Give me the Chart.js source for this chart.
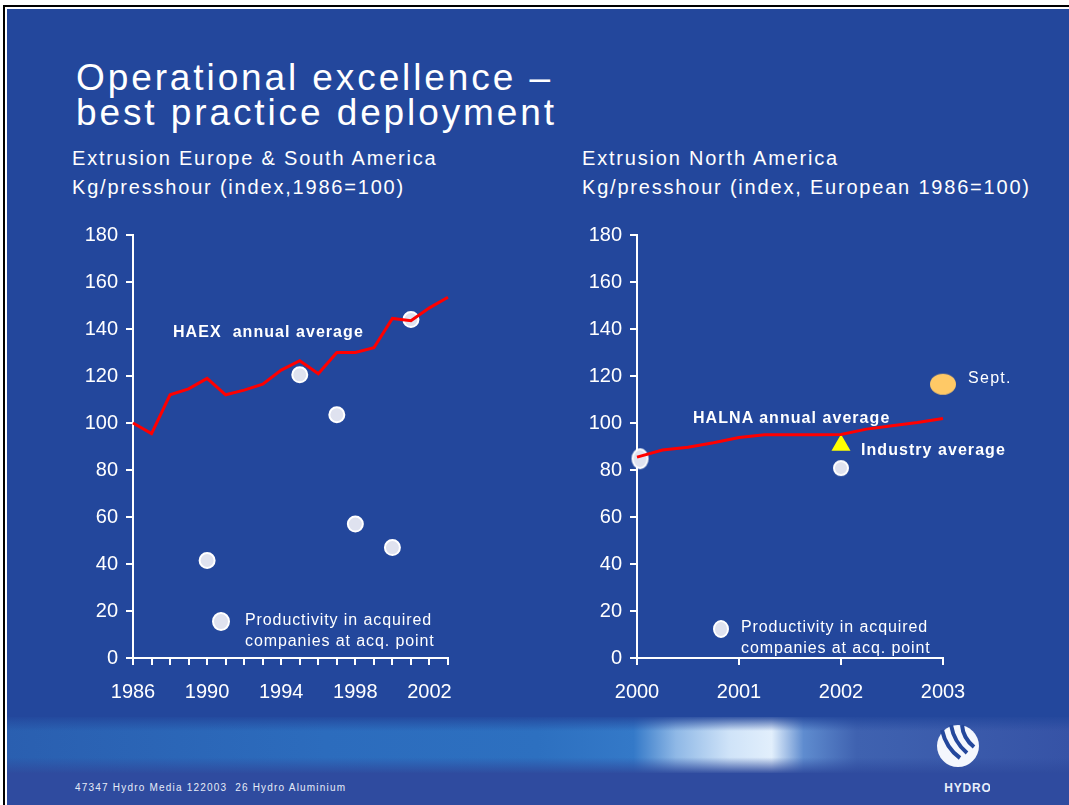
<!DOCTYPE html>
<html>
<head>
<meta charset="utf-8">
<script src="https://cdn.jsdelivr.net/npm/chart.js@4.4.1/dist/chart.umd.min.js"></script>
<style>
  html, body { margin:0; padding:0; background:#fff; }
  body { width:1069px; height:805px; position:relative; overflow:hidden; font-family:"Liberation Sans", Arial, sans-serif; color:#fff; }
  .edge-l { position:absolute; left:3px; top:5px; width:2px; bottom:0; background:#000; }
  .edge-t { position:absolute; left:3px; top:5px; right:0; height:2px; background:#000; }
  .slide { position:absolute; left:7px; top:9px; right:0; bottom:0; background:#23479c; }
  .txt { position:absolute; white-space:nowrap; line-height:1; }
  .title { left:76px; font-size:37px; letter-spacing:2.9px; }
  .sub { font-size:20px; letter-spacing:1.8px; }
  .note { font-size:16px; font-weight:bold; letter-spacing:1.05px; }
  .leg { font-size:16px; letter-spacing:0.9px; line-height:21px; }
  .dot { position:absolute; border-radius:50%; background:#dfe2ef; border:2px solid #fff; }
  .box { position:absolute; }
  .band { position:absolute; left:7px; right:0; top:717px; height:56px;
    background:
      linear-gradient(to bottom, rgba(35,71,156,0.9) 0%, rgba(35,71,156,0) 25%, rgba(35,71,156,0) 72%, rgba(47,75,158,0.95) 100%),
      linear-gradient(to right, #2a5fb0 0%, #2c6cbd 30%, #2d70c0 50%, #3479c8 59%, #8fb8e6 63%, #cfe3f8 68%, #e2effc 72%, #5f8ccf 75%, #3f62b0 80%, #3653a6 100%);
  }
  .foot { position:absolute; left:7px; right:0; top:773px; bottom:0; background:#2f4b9f; }
</style>
</head>
<body>
<div class="slide"></div>
<div class="edge-l"></div>
<div class="edge-t"></div>
<div class="band"></div>
<div class="foot"></div>

<div class="txt title" style="top:59px">Operational excellence –</div>
<div class="txt title" style="top:94px">best practice deployment</div>

<div class="txt sub" style="left:72px; top:148px">Extrusion Europe &amp; South America</div>
<div class="txt sub" style="left:72px; top:177px">Kg/presshour (index,1986=100)</div>
<div class="txt sub" style="left:582px; top:148px">Extrusion North America</div>
<div class="txt sub" style="left:582px; top:177px">Kg/presshour (index, European 1986=100)</div>

<div class="box" style="left:60px; top:215px"><canvas id="left" width="420" height="500"></canvas></div>
<div class="box" style="left:560px; top:215px"><canvas id="right" width="500" height="500"></canvas></div>

<div class="txt note" style="left:173px; top:324px">HAEX&nbsp; annual average</div>
<div class="txt note" style="left:693px; top:410px">HALNA annual average</div>
<div class="txt note" style="left:861px; top:442px">Industry average</div>
<div class="txt" style="left:968px; top:370px; font-size:16px; letter-spacing:1.3px">Sept.</div>

<div class="dot" style="left:212px; top:612px; width:14px; height:15px"></div>
<div class="txt leg" style="left:245px; top:609px">Productivity in acquired<br>companies at acq. point</div>
<div class="dot" style="left:713px; top:620px; width:12px; height:14px"></div>
<div class="txt leg" style="left:741px; top:616px">Productivity in acquired<br>companies at acq. point</div>

<svg class="box" style="left:934px; top:722px" width="56" height="74" viewBox="0 0 56 74">
  <circle cx="24" cy="24" r="21" fill="#f4f7fd"/>
  <path d="M8 8 Q12 26 26 36" stroke="#23479c" stroke-width="4" fill="none"/>
  <path d="M17 3 Q20 20 33 31" stroke="#23479c" stroke-width="4" fill="none"/>
  <path d="M28 3 Q29 16 40 25" stroke="#23479c" stroke-width="4" fill="none"/>
  <text x="34" y="70" text-anchor="middle" font-family="Liberation Sans Narrow, Liberation Sans, Arial" font-weight="bold" font-size="12" letter-spacing="0.8" fill="#e8eefa">HYDRO</text>
</svg>
<div class="txt" style="left:75px; top:783px; font-family:'Liberation Sans Narrow','Liberation Sans',Arial; font-size:10px; letter-spacing:1.2px; color:#e6ebf7">47347 Hydro Media 122003 &nbsp;26 Hydro Aluminium</div>

<script>
// Europe & South America
const haexYears = [1986, 1987, 1988, 1989, 1990, 1991, 1992, 1993, 1994, 1995, 1996, 1997, 1998, 1999, 2000, 2001, 2002, 2003];
const haexValues = [100, 95.5, 112, 114.5, 119, 112, 114, 116.5, 122.5, 126.5, 121, 130, 130, 132, 144.5, 143.5, 149, 153.5];
const acqYearsEu = [1990, 1995, 1997, 1998, 2000, 2001];
const acqValuesEu = [41.5, 120.5, 103.5, 57, 47, 144];
const yearLabelsEu = [1986, 1990, 1994, 1998, 2002];

// North America
const halnaX = [2000, 2000.25, 2000.5, 2000.75, 2001, 2001.25, 2001.5, 2001.75, 2002, 2002.25, 2002.5, 2002.75, 2003, 2003.08];
const halnaValues = [85.5, 88.5, 89.7, 91.6, 93.8, 95, 95, 95, 95.1, 97.4, 98.8, 100.2, 101.9, 101.9];
const acqYearsNa = [2000.03, 2002];
const acqValuesNa = [84.8, 80.8];
const industryYear = [2002];
const industryValue = [90.5];
const septYear = [2003];
const septValue = [116.5];
const yearLabelsNa = [2000, 2001, 2002, 2003];

const yTicks = [0, 20, 40, 60, 80, 100, 120, 140, 160, 180];

const WHITE = '#ffffff';
const tickFont = { family: '"Liberation Sans", Arial, sans-serif', size: 20 };

function pts(xs, ys){ return xs.map((x, i) => ({ x, y: ys[i] })); }

// oval marker images
function oval(w, h, fill, stroke){
  const c = document.createElement('canvas');
  c.width = w + 4; c.height = h + 4;
  const g = c.getContext('2d');
  g.beginPath();
  g.ellipse(c.width / 2, c.height / 2, w / 2, h / 2, 0, 0, Math.PI * 2);
  g.fillStyle = fill; g.fill();
  if(stroke){ g.lineWidth = 2; g.strokeStyle = stroke; g.stroke(); }
  return c;
}
const acqStylesNa = [oval(15, 19, '#dfe2ef', WHITE), oval(14, 14, '#dfe2ef', WHITE)];
const septStyle = oval(26, 21, '#ffc966');

function axes(xMin, xMax, labels, yW, xH){
  return {
    x: {
      type: 'linear', min: xMin, max: xMax,
      grid: { display: true, drawOnChartArea: false, drawTicks: true, tickLength: 7, color: WHITE, lineWidth: 2 },
      border: { display: true, color: WHITE, width: 2 },
      ticks: { stepSize: 1, autoSkip: false, maxRotation: 0, color: WHITE, font: tickFont, padding: 15,
        callback: v => labels.includes(v) ? String(v) : '' },
      afterFit: s => { s.height = xH; }
    },
    y: {
      min: 0, max: 180,
      afterBuildTicks: s => { s.ticks = yTicks.map(v => ({ value: v })); },
      grid: { display: true, drawOnChartArea: false, drawTicks: true, tickLength: 7, color: WHITE, lineWidth: 2 },
      border: { display: true, color: WHITE, width: 2 },
      ticks: { color: WHITE, font: tickFont, padding: 8 },
      afterFit: s => { s.width = yW; }
    }
  };
}

const common = {
  responsive: false,
  devicePixelRatio: 1,
  animation: false,
  plugins: { legend: { display: false }, tooltip: { enabled: false } }
};

new Chart(document.getElementById('left'), {
  type: 'scatter',
  data: {
    datasets: [
      { type: 'line', data: pts(haexYears, haexValues), borderColor: '#ff0000', borderWidth: 3, pointRadius: 0, tension: 0, clip: false },
      { data: pts(acqYearsEu, acqValuesEu), backgroundColor: '#dfe2ef', borderColor: WHITE, borderWidth: 2, pointRadius: 7.5, clip: false }
    ]
  },
  options: { ...common, layout: { padding: { top: 15, right: 32, left: 0, bottom: 0 } }, scales: axes(1986, 2003, yearLabelsEu, 73, 57) }
});

new Chart(document.getElementById('right'), {
  type: 'scatter',
  data: {
    datasets: [
      { type: 'line', data: pts(halnaX, halnaValues), borderColor: '#ff0000', borderWidth: 3, pointRadius: 0, tension: 0, clip: false },
      { data: pts(acqYearsNa, acqValuesNa), pointStyle: acqStylesNa, clip: false },
      { data: pts(industryYear, industryValue), pointStyle: 'triangle', backgroundColor: '#ffff00', borderColor: '#ffff00', borderWidth: 0, pointRadius: 11, clip: false },
      { data: pts(septYear, septValue), pointStyle: septStyle, clip: false }
    ]
  },
  options: { ...common, layout: { padding: { top: 19, right: 117, left: 0, bottom: 0 } }, scales: axes(2000, 2003, yearLabelsNa, 77, 57) }
});
</script>
</body>
</html>
